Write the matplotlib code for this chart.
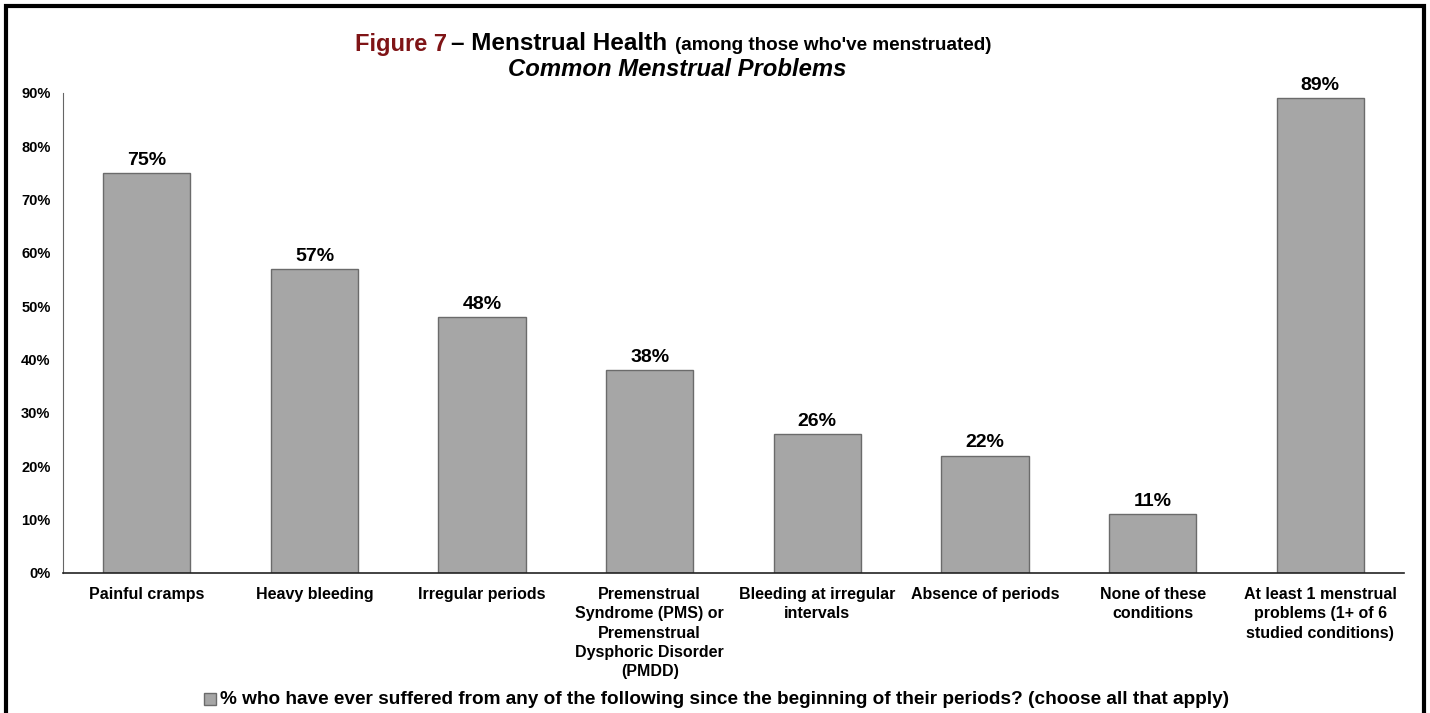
import matplotlib.pyplot as plt
import numpy as np
from matplotlib.patches import Rectangle

plt.rcParams['font.family'] = ['Liberation Sans', 'DejaVu Sans']
plt.rcParams['font.weight'] = 'bold'

categories = ["Painful cramps", "Heavy bleeding", "Irregular periods",
              "Premenstrual\nSyndrome (PMS) or\nPremenstrual\nDysphoric Disorder\n(PMDD)",
              "Bleeding at irregular\nintervals", "Absence of periods",
              "None of these\nconditions",
              "At least 1 menstrual\nproblems (1+ of 6\nstudied conditions)"]
values = [75, 57, 48, 38, 26, 22, 11, 89]
yticks = [0, 10, 20, 30, 40, 50, 60, 70, 80, 90]
series_name = "% who have ever suffered from any of the following since the beginning of their periods? (choose all that apply)"

fig = plt.figure(figsize=(14.3, 7.13), dpi=100)
ax = fig.add_axes([63 / 1430, 140 / 713, (1404 - 63) / 1430, 480 / 713])

x = np.arange(len(categories))
bars = ax.bar(x, values, width=0.52, color="#a6a6a6", edgecolor="#6b6b6b", linewidth=1)
for xi, v in zip(x, values):
    ax.text(xi, v + 0.8, f"{v}%", ha="center", va="bottom", fontsize=14, fontweight="bold")

ax.set_xlim(-0.5, len(categories) - 0.5)
ax.set_ylim(0, 90)
ax.set_yticks(yticks)
ax.set_yticklabels([f"{t}%" for t in yticks], fontsize=10.5, fontweight="bold")
ax.set_xticks(x)
ax.set_xticklabels(categories, fontsize=11.5, fontweight="bold", linespacing=1.36, va="top")
ax.tick_params(axis="y", length=0, pad=9)
ax.tick_params(axis="x", length=0, pad=10)
for s in ["top", "right"]:
    ax.spines[s].set_visible(False)
ax.spines["left"].set_color("#666666")
ax.spines["bottom"].set_color("#222222")
ax.spines["bottom"].set_linewidth(1.2)

# title
fig.text(355 / 1430, 1 - 44 / 713, "Figure 7", color="#7f1416", fontsize=17, fontweight="bold", va="center", ha="left")
fig.text(451 / 1430, 1 - 44 / 713, "\u2013 Menstrual Health", color="black", fontsize=17.5, fontweight="bold", va="center", ha="left")
fig.text(675 / 1430, 1 - 45 / 713, "(among those who've menstruated)", color="black", fontsize=13.6, fontweight="bold", va="center", ha="left")
fig.text(677 / 1430, 1 - 70 / 713, "Common Menstrual Problems", color="black", fontsize=17.2, fontweight="bold", style="italic", va="center", ha="center")

# legend
fig.patches.append(Rectangle((204 / 1430, 1 - 705 / 713), 12 / 1430, 12 / 713, transform=fig.transFigure,
                             facecolor="#a6a6a6", edgecolor="#6b6b6b", linewidth=1))
fig.text(220 / 1430, 1 - 699 / 713, series_name, fontsize=13.7, fontweight="bold", va="center", ha="left")

# frame
fig.patches.append(Rectangle((6 / 1430, -0.05), (1424 - 6) / 1430, 1.05 - 6 / 713, transform=fig.transFigure,
                             facecolor="none", edgecolor="black", linewidth=3))

fig.savefig("out.png", dpi=100)
